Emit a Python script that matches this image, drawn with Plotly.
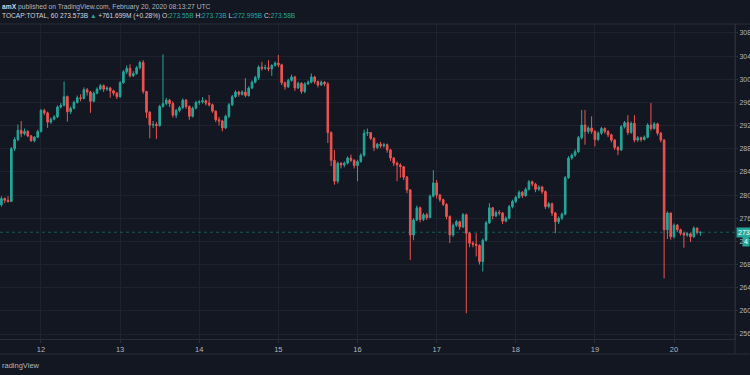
import plotly.graph_objects as go
import pandas as pd

# ---- data (hourly candles, CRYPTOCAP:TOTAL, billions USD) ----
start_time = "2020-02-11 12:00"
first_open = 278.3
close = [279.4, 279.1, 278.9, 288.0, 289.6, 291.2, 290.6, 291.0, 290.2, 289.4,
         290.0, 291.0, 294.6, 294.2, 292.6, 293.1, 293.5, 295.2, 295.5, 297.0,
         294.4, 295.0, 296.0, 296.8, 296.7, 298.2, 297.8, 296.2, 297.6, 298.3,
         298.9, 298.3, 298.5, 298.0, 297.6, 297.0, 299.4, 301.3, 301.9, 300.6,
         301.0, 302.0, 302.9, 297.9, 294.3, 292.1, 292.2, 292.0, 295.3, 295.8,
         296.4, 295.8, 293.8, 294.6, 295.1, 296.4, 295.3, 293.6, 295.0, 296.0,
         296.1, 296.3, 295.9, 295.6, 294.5, 293.0, 292.8, 291.6, 293.6, 295.6,
         297.0, 297.8, 297.4, 297.8, 297.2, 298.5, 299.5, 300.3, 302.1, 301.9,
         302.0, 301.8, 302.4, 302.8, 302.5, 299.4, 298.7, 299.8, 300.4, 298.5,
         299.3, 297.9, 299.2, 299.5, 300.4, 299.6, 299.0, 299.5, 299.2, 290.8,
         286.0, 282.4, 285.5, 285.2, 285.5, 286.4, 286.0, 285.1, 285.8, 286.9,
         290.7, 290.8, 289.8, 288.2, 288.8, 288.5, 288.7, 287.8, 286.4, 285.5,
         285.2, 284.9, 283.1, 280.9, 273.1, 275.7, 277.8, 275.8, 276.6, 276.1,
         279.8, 282.1, 280.0, 279.2, 278.4, 276.3, 273.1, 274.8, 275.4, 274.5,
         276.6, 273.4, 271.7, 271.5, 271.3, 268.5, 272.2, 275.2, 277.8, 276.4,
         277.0, 276.9, 275.5, 276.0, 278.0, 278.9, 279.6, 280.5, 279.9, 281.0,
         282.3, 281.9, 281.0, 281.4, 280.6, 278.0, 278.5, 276.9, 275.4, 276.0,
         276.7, 283.0, 286.4, 286.9, 287.5, 289.9, 292.1, 291.0, 291.6, 291.0,
         289.6, 290.7, 291.5, 291.0, 290.4, 289.5, 288.2, 287.8, 291.8, 292.5,
         290.8, 292.4, 289.5, 289.9, 289.6, 290.0, 292.1, 291.5, 292.3, 290.7,
         289.5, 274.0, 276.9, 272.8, 274.8, 274.0, 273.4, 273.1, 273.3, 272.8,
         274.3, 273.55, 273.58]
high = [279.8, 279.6, 279.8, 288.3, 290.0, 292.2, 292.8, 291.5, 291.2, 290.4,
        290.2, 291.3, 294.9, 294.9, 294.4, 293.4, 293.8, 295.5, 295.9, 299.6,
        297.2, 295.3, 296.3, 297.2, 297.4, 298.6, 298.5, 298.0, 297.9, 298.6,
        299.2, 299.1, 298.8, 298.7, 298.2, 297.8, 299.7, 301.6, 302.4, 302.6,
        301.4, 302.3, 303.2, 303.3, 298.0, 294.5, 292.8, 292.6, 295.6, 304.3,
        296.8, 296.6, 296.2, 294.9, 295.4, 296.7, 296.6, 295.5, 295.3, 296.3,
        296.4, 296.9, 296.5, 297.3, 295.8, 294.6, 293.5, 293.0, 293.9, 295.9,
        297.3, 298.1, 298.0, 298.1, 300.2, 298.8, 299.8, 300.6, 302.4, 303.0,
        302.5, 303.3, 302.6, 303.1, 304.2, 302.7, 299.6, 300.1, 300.8, 300.6,
        299.6, 299.5, 299.5, 299.8, 301.0, 300.6, 299.8, 299.8, 299.7, 299.5,
        291.0, 287.8, 285.8, 285.7, 285.8, 286.7, 287.0, 286.2, 286.1, 287.2,
        291.3, 291.5, 290.8, 290.0, 289.0, 289.2, 289.0, 288.9, 288.0, 286.6,
        285.8, 285.5, 285.0, 283.3, 281.0, 276.0, 278.2, 278.0, 276.9, 276.9,
        280.1, 284.3, 282.6, 280.2, 279.4, 278.6, 276.5, 275.1, 275.7, 275.6,
        276.9, 276.8, 273.6, 272.0, 273.4, 271.5, 272.5, 275.5, 278.6, 277.9,
        277.3, 277.4, 277.1, 276.3, 278.3, 279.2, 279.9, 280.8, 280.7, 281.3,
        282.6, 282.5, 282.1, 281.7, 281.6, 280.8, 278.8, 278.7, 277.1, 276.3,
        277.0, 283.3, 286.7, 287.2, 287.9, 290.2, 294.7, 294.7, 291.9, 293.6,
        291.2, 291.0, 291.8, 291.7, 291.2, 290.6, 289.7, 288.5, 292.1, 292.8,
        293.8, 292.7, 293.8, 290.2, 290.1, 290.3, 292.4, 295.9, 292.6, 292.5,
        290.9, 289.7, 277.2, 277.0, 275.1, 275.0, 274.2, 273.7, 273.6, 273.5,
        274.6, 274.4, 273.73]
low = [278.0, 278.6, 278.7, 278.8, 287.6, 289.3, 290.0, 290.3, 290.0, 289.2,
       289.1, 289.8, 290.8, 293.8, 291.6, 292.3, 292.9, 293.3, 295.0, 295.3,
       292.7, 294.0, 294.8, 295.8, 296.2, 296.5, 297.2, 294.2, 296.0, 297.4,
       298.1, 297.8, 298.0, 296.8, 297.2, 296.6, 296.8, 299.2, 300.9, 300.3,
       300.4, 300.8, 301.7, 297.5, 293.3, 289.8, 291.6, 289.7, 291.8, 295.1,
       295.5, 295.2, 293.4, 293.3, 294.3, 294.9, 294.9, 293.0, 293.4, 294.8,
       295.6, 295.8, 295.5, 295.3, 294.2, 292.6, 292.0, 291.0, 291.4, 293.3,
       295.4, 296.8, 297.0, 297.2, 296.9, 297.0, 298.3, 299.3, 299.9, 301.5,
       301.6, 301.4, 300.6, 302.2, 302.1, 299.0, 298.2, 298.5, 299.6, 298.0,
       298.3, 297.5, 297.6, 299.0, 299.3, 299.2, 298.6, 298.9, 298.8, 289.0,
       285.0, 281.8, 282.0, 284.6, 284.8, 285.3, 285.7, 284.6, 282.4, 285.6,
       286.6, 290.2, 289.5, 287.6, 287.9, 288.1, 288.2, 287.3, 285.9, 285.0,
       282.4, 283.0, 282.6, 280.3, 268.8, 272.2, 275.5, 275.3, 275.5, 275.7,
       276.0, 279.6, 279.4, 278.8, 278.1, 275.8, 271.7, 272.8, 274.5, 274.0,
       274.3, 259.6, 271.0, 271.0, 269.4, 268.0, 266.8, 272.0, 275.0, 275.8,
       276.2, 276.5, 275.0, 275.3, 275.8, 277.7, 278.6, 279.4, 279.5, 279.7,
       280.8, 281.5, 280.5, 280.7, 280.2, 277.6, 277.7, 276.4, 273.4, 275.0,
       275.7, 276.5, 282.8, 286.1, 286.6, 287.3, 289.6, 288.7, 290.6, 290.6,
       288.4, 289.3, 290.4, 290.6, 290.0, 289.1, 287.8, 286.9, 287.6, 291.5,
       290.4, 290.6, 289.1, 289.2, 289.2, 289.4, 289.8, 291.1, 291.3, 290.3,
       289.1, 265.6, 272.4, 272.3, 272.5, 273.6, 273.0, 270.9, 272.8, 271.9,
       272.6, 273.2, 272.995]

open_ = [first_open] + close[:-1]
times = pd.date_range(start_time, periods=len(close), freq="h")

day_ticks = ["2020-02-12", "2020-02-13", "2020-02-14", "2020-02-15", "2020-02-16",
             "2020-02-17", "2020-02-18", "2020-02-19", "2020-02-20"]
day_labels = ["12", "13", "14", "15", "16", "17", "18", "19", "20"]
price_ticks = [256, 260, 264, 268, 272, 276, 280, 284, 288, 292, 296, 300, 304, 308]
price_labels = [str(v) for v in price_ticks]
last_price = 273.58

UP = "#26a69a"
DOWN = "#ef5350"
BG = "#131722"
GRID = "#1e2230"
BORDER = "#2a2e39"
TXT = "#b2b5be"

fig = go.Figure(go.Candlestick(
    x=times, open=open_, high=high, low=low, close=close,
    increasing=dict(line=dict(color=UP, width=1), fillcolor=UP),
    decreasing=dict(line=dict(color=DOWN, width=1), fillcolor=DOWN),
    whiskerwidth=0, showlegend=False, hoverinfo="skip",
))

fig.update_layout(
    width=750, height=375,
    margin=dict(l=0, r=15, t=24, b=36, autoexpand=False),
    paper_bgcolor=BG, plot_bgcolor=BG,
    font=dict(family="Liberation Sans, Arial, sans-serif", color=TXT, size=8),
    boxgap=0.3,
    xaxis=dict(
        range=["2020-02-11 11:34", "2020-02-20 18:30"],
        rangeslider=dict(visible=False), automargin=False,
        tickvals=day_ticks, ticktext=day_labels,
        showgrid=True, gridcolor=GRID, gridwidth=1,
        showline=True, linecolor=BORDER, linewidth=1,
        ticks="outside", ticklen=3, tickcolor=BORDER,
        tickfont=dict(size=7.5, color=TXT), zeroline=False, fixedrange=True,
    ),
    yaxis=dict(
        side="right", range=[255.14, 309.55], automargin=False,
        tickvals=price_ticks, ticktext=price_labels,
        showgrid=True, gridcolor=GRID, gridwidth=1,
        showline=True, linecolor=BORDER, linewidth=1,
        ticks="outside", ticklen=2, tickcolor=BORDER,
        tickfont=dict(size=7, color=TXT), zeroline=False, fixedrange=True,
    ),
)

# pane borders
fig.add_shape(type="line", xref="paper", yref="paper", x0=0, x1=1.02, y0=1, y1=1,
              line=dict(color=BORDER, width=1))
fig.add_shape(type="line", xref="paper", yref="paper", x0=0, x1=1.02, y0=-15/315, y1=-15/315,
              line=dict(color=BORDER, width=1))
fig.add_shape(type="line", xref="paper", yref="paper", x0=1, x1=1, y0=-15/315, y1=1,
              line=dict(color=BORDER, width=1))
# last price line
fig.add_shape(type="line", xref="paper", yref="y", x0=0, x1=1, y0=last_price, y1=last_price,
              line=dict(color="rgba(38,166,154,0.45)", width=1, dash="dot"))

# header texts
fig.add_annotation(xref="paper", yref="paper", x=0, y=1 + 17/315, xanchor="left", yanchor="middle",
                   showarrow=False, font=dict(size=6.7, color=TXT),
                   text="<b style='color:#d1d4dc'>amX</b> published on TradingView.com, February 20, 2020 08:13:27 UTC")
fig.add_annotation(xref="paper", yref="paper", x=0, y=1 + 8/315, xanchor="left", yanchor="middle",
                   showarrow=False, font=dict(size=6.6, color="#d1d4dc"),
                   text=("TOCAP:TOTAL, 60 273.573B <span style='color:#26a69a'>▲</span> +761.699M (+0.28%) "
                         "O:<span style='color:#26a69a'>273.55B</span> H:<span style='color:#26a69a'>273.73B</span> "
                         "L:<span style='color:#26a69a'>272.995B</span> C:<span style='color:#26a69a'>273.58B</span>"))
fig.add_annotation(xref="paper", yref="paper", x=0, y=-26/315, xanchor="left", yanchor="middle",
                   showarrow=False, font=dict(size=7.5, color=TXT), text="radingView")

# price scale labels
fig.add_annotation(xref="paper", yref="y", x=1 + 1/735, y=last_price, xanchor="left", yanchor="middle",
                   showarrow=False, bgcolor=UP, borderpad=1, font=dict(size=7, color="#ffffff"),
                   text="273")
fig.add_annotation(xref="paper", yref="y", x=1 + 7/735, y=271.9, xanchor="left", yanchor="middle",
                   showarrow=False, bgcolor=UP, borderpad=1, font=dict(size=7, color="#ffffff"),
                   text="4")

fig.write_html("out.html", config={"displayModeBar": False},
               post_script="document.body.style.margin='0';document.body.style.background='#131722';")
